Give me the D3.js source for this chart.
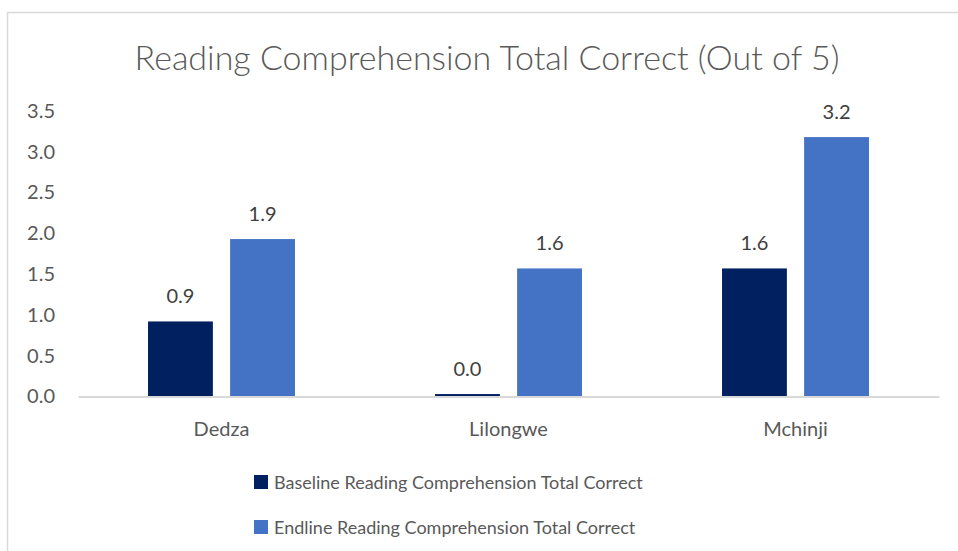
<!DOCTYPE html>
<html>
<head>
<meta charset="utf-8">
<script src="https://cdn.jsdelivr.net/npm/d3@7"></script>
<style>
  body { margin: 0; background: #fff; }
  svg text { font-family: Lato, "Open Sans", sans-serif; fill: #595959; }
</style>
</head>
<body>
<div id="chart"></div>
<script>
// data
var districts = ["Dedza", "Lilongwe", "Mchinji"];
var seriesNames = ["Baseline Reading Comprehension Total Correct", "Endline Reading Comprehension Total Correct"];
var baseline = [0.92, 0.03, 1.57];
var endline = [1.93, 1.57, 3.18];
var yTicks = [0, 0.5, 1, 1.5, 2, 2.5, 3, 3.5];
var colors = ["#002060", "#4472C4"];

var width = 958, height = 551;

var svg = d3.select("#chart")
  .append("svg")
    .attr("width", width)
    .attr("height", height)
    .style("display", "block");

// light frame round the chart area
svg.append("rect")
  .attr("x", 7.5).attr("y", 12.5)
  .attr("width", width + 10).attr("height", height + 10)
  .attr("fill", "none")
  .attr("stroke", "#d9d9d9")
  .attr("stroke-width", 1.5);

var margin = { left: 78, right: 19, top: 111, bottom: 154.5 };

var x0 = d3.scaleBand()
  .domain(districts)
  .range([margin.left, width - margin.right])
  .paddingInner(0.488)
  .paddingOuter(0.244);

var x1 = d3.scaleBand()
  .domain([0, 1])
  .range([0, x0.bandwidth()])
  .paddingInner(0.21);

var y = d3.scaleLinear()
  .domain([0, 3.5])
  .range([height - margin.bottom, margin.top]);

// title
svg.append("text")
  .attr("x", 487)
  .attr("y", 70)
  .attr("text-anchor", "middle")
  .style("font-size", "34px")
  .style("font-weight", 300)
  .text("Reading Comprehension Total Correct (Out of 5)");

// y axis labels, no line
var yAxis = svg.append("g")
  .attr("transform", "translate(55,0)")
  .call(d3.axisLeft(y).tickValues(yTicks).tickSize(0).tickFormat(d3.format(".1f")));
yAxis.select(".domain").remove();
yAxis.selectAll("text")
  .attr("x", 0)
  .style("font-size", "20px")
  .style("fill", "#595959");

// bars
var rows = districts.map(function(d, i){ return { name: d, values: [baseline[i], endline[i]] }; });

var groups = svg.append("g")
  .selectAll("g")
  .data(rows)
  .enter()
  .append("g")
    .attr("transform", function(d){ return "translate(" + x0(d.name) + ",0)"; });

groups.selectAll("rect")
  .data(function(d){ return d.values.map(function(v, k){ return { k: k, v: v }; }); })
  .enter()
  .append("rect")
    .attr("x", function(d){ return x1(d.k); })
    .attr("width", x1.bandwidth())
    .attr("y", function(d){ return y(d.v); })
    .attr("height", function(d){ return y(0) - y(d.v); })
    .attr("fill", function(d){ return colors[d.k]; });

// value labels
groups.selectAll("text.val")
  .data(function(d){ return d.values.map(function(v, k){ return { k: k, v: v }; }); })
  .enter()
  .append("text")
    .attr("class", "val")
    .attr("x", function(d){ return x1(d.k) + x1.bandwidth() / 2; })
    .attr("y", function(d){ return y(d.v) - 18; })
    .attr("text-anchor", "middle")
    .style("font-size", "20px")
    .style("fill", "#404040")
    .text(function(d){ return d3.format(".1f")(d.v); });

// x axis line + category labels
var xAxis = svg.append("g")
  .attr("transform", "translate(0," + y(0) + ")")
  .call(d3.axisBottom(x0).tickSize(0).tickPadding(0));
xAxis.select(".domain")
  .attr("stroke", "#d9d9d9")
  .attr("stroke-width", 2);
xAxis.selectAll("text")
  .attr("dy", "0")
  .attr("y", 39)
  .style("font-size", "20px")
  .style("fill", "#595959");

// legend
var legend = svg.append("g")
  .selectAll("g")
  .data(seriesNames)
  .enter()
  .append("g")
    .attr("transform", function(d, i){ return "translate(254," + (475 + i * 45) + ")"; });

legend.append("rect")
  .attr("width", 14)
  .attr("height", 14)
  .attr("fill", function(d, i){ return colors[i]; });

legend.append("text")
  .attr("x", 20)
  .attr("y", 14)
  .style("font-size", "18px")
  .text(function(d){ return d; });
</script>
</body>
</html>
